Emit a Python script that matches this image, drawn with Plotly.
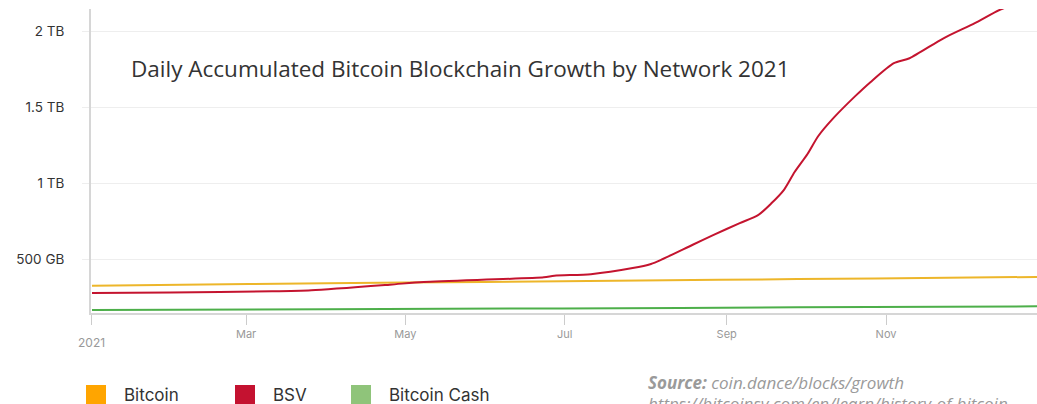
import plotly.graph_objects as go

# ---- data (GB) ----
bsv_dates = ["2021-01-01", "2021-01-31", "2021-03-11", "2021-03-26", "2021-04-25", "2021-05-08",
             "2021-06-23", "2021-06-27", "2021-07-11", "2021-07-27", "2021-08-03", "2021-08-07",
             "2021-08-19", "2021-08-27", "2021-09-06", "2021-09-13", "2021-09-18", "2021-09-23",
             "2021-09-27", "2021-10-02", "2021-10-06", "2021-10-12", "2021-10-20", "2021-10-26",
             "2021-11-04", "2021-11-10", "2021-11-23", "2021-12-05", "2021-12-15", "2021-12-31"]
bsv_values = [282, 285, 292, 299, 336, 354,
              384, 395, 405, 445, 472, 500,
              598, 663, 740, 792, 868, 960,
              1075, 1195, 1310, 1432, 1570, 1665,
              1790, 1822, 1953, 2052, 2143, 2235]

btc_dates = ["2021-01-01", "2021-03-02", "2021-05-01", "2021-06-30", "2021-08-29", "2021-10-28", "2021-12-31"]
btc_values = [329, 340, 350, 358, 368, 377, 387]

bch_dates = ["2021-01-01", "2021-04-01", "2021-06-30", "2021-09-28", "2021-12-31"]
bch_values = [170, 175, 180, 187, 194]

series_names = ["Bitcoin", "BSV", "Bitcoin Cash"]
line_colors = ["#EDB62A", "#C4142F", "#4DAF4A"]
legend_colors = ["#FFA500", "#C41230", "#8FC47A"]

y_tickvals = [500, 1000, 1500, 2000]
y_ticktext = ["500 GB", "1 TB", "1.5 TB", "2 TB"]
x_tickvals = ["2021-01-01", "2021-03-01", "2021-05-01", "2021-07-01", "2021-09-01", "2021-11-01"]
x_ticktext = ["", "Mar", "May", "Jul", "Sep", "Nov"]

title_text = "Daily Accumulated Bitcoin Blockchain Growth by Network 2021"

W, H = 1037, 404
L, R, T, B = 91, 0, 9, 91
PW, PH = W - L - R, H - T - B


def px(x):
    return (x - L) / PW


def py(y):
    return (H - B - y) / PH


fig = go.Figure()
for name, d, v, c in zip(series_names,
                         [btc_dates, bsv_dates, bch_dates],
                         [btc_values, bsv_values, bch_values],
                         line_colors):
    fig.add_trace(go.Scatter(x=d, y=v, mode="lines", name=name,
                             line=dict(color=c, width=2, shape="spline", smoothing=0.7),
                             showlegend=False, hoverinfo="skip"))

fig.update_layout(
    width=W, height=H,
    margin=dict(l=L, r=R, t=T, b=B),
    paper_bgcolor="white", plot_bgcolor="white",
    showlegend=False,
)
fig.update_xaxes(
    type="date",
    range=["2020-12-31 15:00", "2021-12-28 19:00"],
    tickvals=x_tickvals, ticktext=x_ticktext,
    ticks="outside", ticklen=10, tickcolor="#cccccc", tickwidth=1,
    showgrid=False, showline=True, linecolor="#d6d6d6", linewidth=2,
    tickfont=dict(family="Inter", size=11, color="#999999"),
    zeroline=False,
)
fig.update_yaxes(
    range=[150, 2145],
    tickvals=y_tickvals, ticktext=y_ticktext,
    ticks="outside", ticklen=7, tickcolor="#eeeeee",
    showgrid=True, gridcolor="#eeeeee", gridwidth=1,
    showline=True, linecolor="#d6d6d6", linewidth=2,
    tickfont=dict(family="Inter", size=13.5, color="#333333"),
    ticklabelstandoff=15,
    zeroline=False,
)

# first x tick label
fig.add_annotation(x=x_tickvals[0], xref="x", y=py(342), yref="paper", text="2021",
                   showarrow=False, font=dict(family="Inter", size=12, color="#999999"),
                   xanchor="center", yanchor="middle")

# title
fig.add_annotation(x=px(129), xref="paper", y=py(69), yref="paper", text=title_text,
                   showarrow=False, font=dict(family="Open Sans", size=22.5, color="#333333"),
                   xanchor="left", yanchor="middle")

# legend
legend_x = [86, 235, 351]
for name, c, lx in zip(series_names, legend_colors, legend_x):
    fig.add_shape(type="rect", xref="paper", yref="paper",
                  x0=px(lx), x1=px(lx + 20), y0=py(405), y1=py(385),
                  fillcolor=c, line=dict(width=0))
    fig.add_annotation(x=px(lx + 36), xref="paper", y=py(395), yref="paper", text=name,
                       showarrow=False, font=dict(family="Inter", size=17, color="#333333"),
                       xanchor="left", yanchor="middle")

# source
fig.add_annotation(x=px(646), xref="paper", y=py(383), yref="paper",
                   text="<b><i>Source:</i></b> <i>coin.dance/blocks/growth</i>",
                   showarrow=False, font=dict(family="Open Sans", size=17, color="#9a9a9a"),
                   xanchor="left", yanchor="middle")
fig.add_annotation(x=px(646), xref="paper", y=py(403), yref="paper",
                   text="<i>https://bitcoinsv.com/en/learn/history-of-bitcoin</i>",
                   showarrow=False, font=dict(family="Open Sans", size=17, color="#9a9a9a"),
                   xanchor="left", yanchor="middle")

fig.write_html("out.html")
